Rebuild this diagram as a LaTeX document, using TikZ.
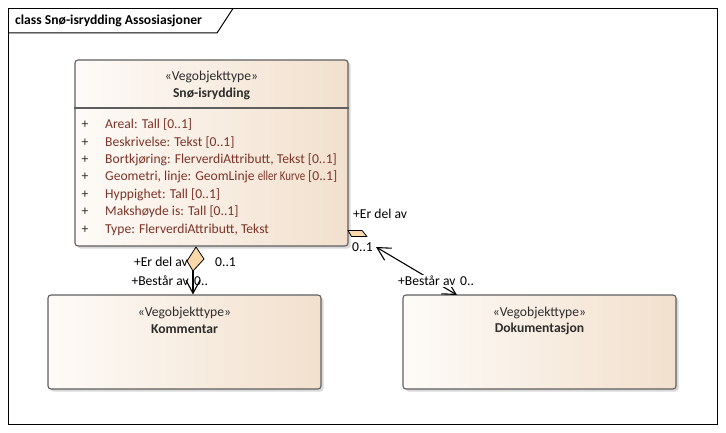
\documentclass[tikz,border=0pt]{standalone}
\usepackage{fontspec}
\setmainfont{Carlito}
\usetikzlibrary{arrows.meta,shadows,positioning}
\definecolor{boxleft}{RGB}{254,251,248}
\definecolor{boxright}{RGB}{242,224,205}
\definecolor{boxline}{RGB}{95,95,95}
\definecolor{attrtxt}{RGB}{125,52,40}
\definecolor{aggrfill}{RGB}{249,216,170}
\definecolor{txtgray}{RGB}{45,45,45}

\begin{document}
\begin{tikzpicture}[x=1pt,y=-1pt,
  >={Straight Barb[length=13pt, width=14pt]},
  every node/.style={font=\fontsize{13.6}{16}\selectfont, inner sep=1pt},
  klasse/.style={draw=boxline, line width=1.1pt, rounded corners=3pt,
    left color=boxleft, right color=boxright, minimum width=273pt,
    drop shadow={shadow xshift=2.5pt, shadow yshift=-2.5pt, opacity=0.3}},
  stereo/.style={text=txtgray},
  navn/.style={text=txtgray, font=\fontsize{13.6}{16}\selectfont\bfseries},
  pluss/.style={text=txtgray},
  attr/.style={text=attrtxt, anchor=west},
  rolle/.style={text=black},
  aggr/.style={draw=black, fill=aggrfill, line width=0.8pt, line join=round},
  link/.style={draw=black, line width=1.1pt}]
\useasboundingbox (0,0) rectangle (726,433);

% ramme
\draw[line width=1pt] (8.5,8.5) rectangle (717.5,424);
\draw[line width=1pt] (8.5,33) -- (217,33) -- (233,8.5);
\node[anchor=west, font=\fontsize{13.6}{16}\selectfont\bfseries] (tittel) at (14,21) {class Snø-isrydding Assosiasjoner};

% klasser
\node[klasse, minimum height=186pt] (sno) at (211.5,153) {};
\node[klasse, minimum height=94pt] (kom) at (184.5,342) {};
\node[klasse, minimum height=94pt] (dok) at (539.5,342) {};

\node[stereo] (snoster) at (211.5,77) {«Vegobjekttype»};
\node[navn] (snonavn) at (211.5,94) {Snø-isrydding};
\coordinate (hsep) at (0,108);
\draw[boxline, line width=1.1pt] (sno.west |- hsep) -- (sno.east |- hsep);
\foreach \attr [count=\i] in {{Areal: Tall [0..1]}, {Beskrivelse: Tekst [0..1]},
  {Bortkjøring: FlerverdiAttributt, Tekst [0..1]},
  {Geometri, linje: GeomLinje \scalebox{0.8}[1]{eller Kurve} [0..1]}, {Hyppighet: Tall [0..1]},
  {Makshøyde is: Tall [0..1]}, {Type: FlerverdiAttributt, Tekst}} {
  \node[pluss] (p\i) at (85,107.6+17.4*\i) {+};
  \node[attr] (a\i) at (104,107.6+17.4*\i) {\attr};
}

\node[stereo] (komster) at (184.5,313) {«Vegobjekttype»};
\node[navn] (komnavn) at (184.5,329) {Kommentar};
\node[stereo] (dokster) at (539.5,313) {«Vegobjekttype»};
\node[navn] (doknavn) at (539.5,329) {Dokumentasjon};

% aggregering til Kommentar
\draw[aggr] (196,247) -- (204,259) -- (193,271) -- (187,261) -- cycle;
\coordinate (d1) at (193,271);
\draw[link, ->] (d1) -- (d1 |- kom.north);
\node[rolle, anchor=east] (r1) at (189,262) {+Er del av};
\node[rolle, anchor=west] (m1) at (214,262) {0..1};
\node[rolle, anchor=east] (r2) at (190,281) {+Består av};
\node[rolle, anchor=west] (m2) at (193,281) {0..};

% aggregering til Dokumentasjon
\draw[aggr] (348,230.5) -- (362,230.5) -- (367,236.5) -- (351.5,236.5) -- cycle;
\coordinate (d2) at (376,247);
\coordinate (dokin) at (457,295);
\draw[link, <->] (d2) -- (dokin);
\node[rolle, anchor=west] (r3) at (352,214) {+Er del av};
\node[rolle, anchor=west, fill=white] (m3) at (351,247) {0..1};
\node[rolle, anchor=west, fill=white] (r4) at (397,281) {+Består av};
\node[rolle, anchor=west] (m4) at (459,281) {0..};
\end{tikzpicture}
\end{document}
